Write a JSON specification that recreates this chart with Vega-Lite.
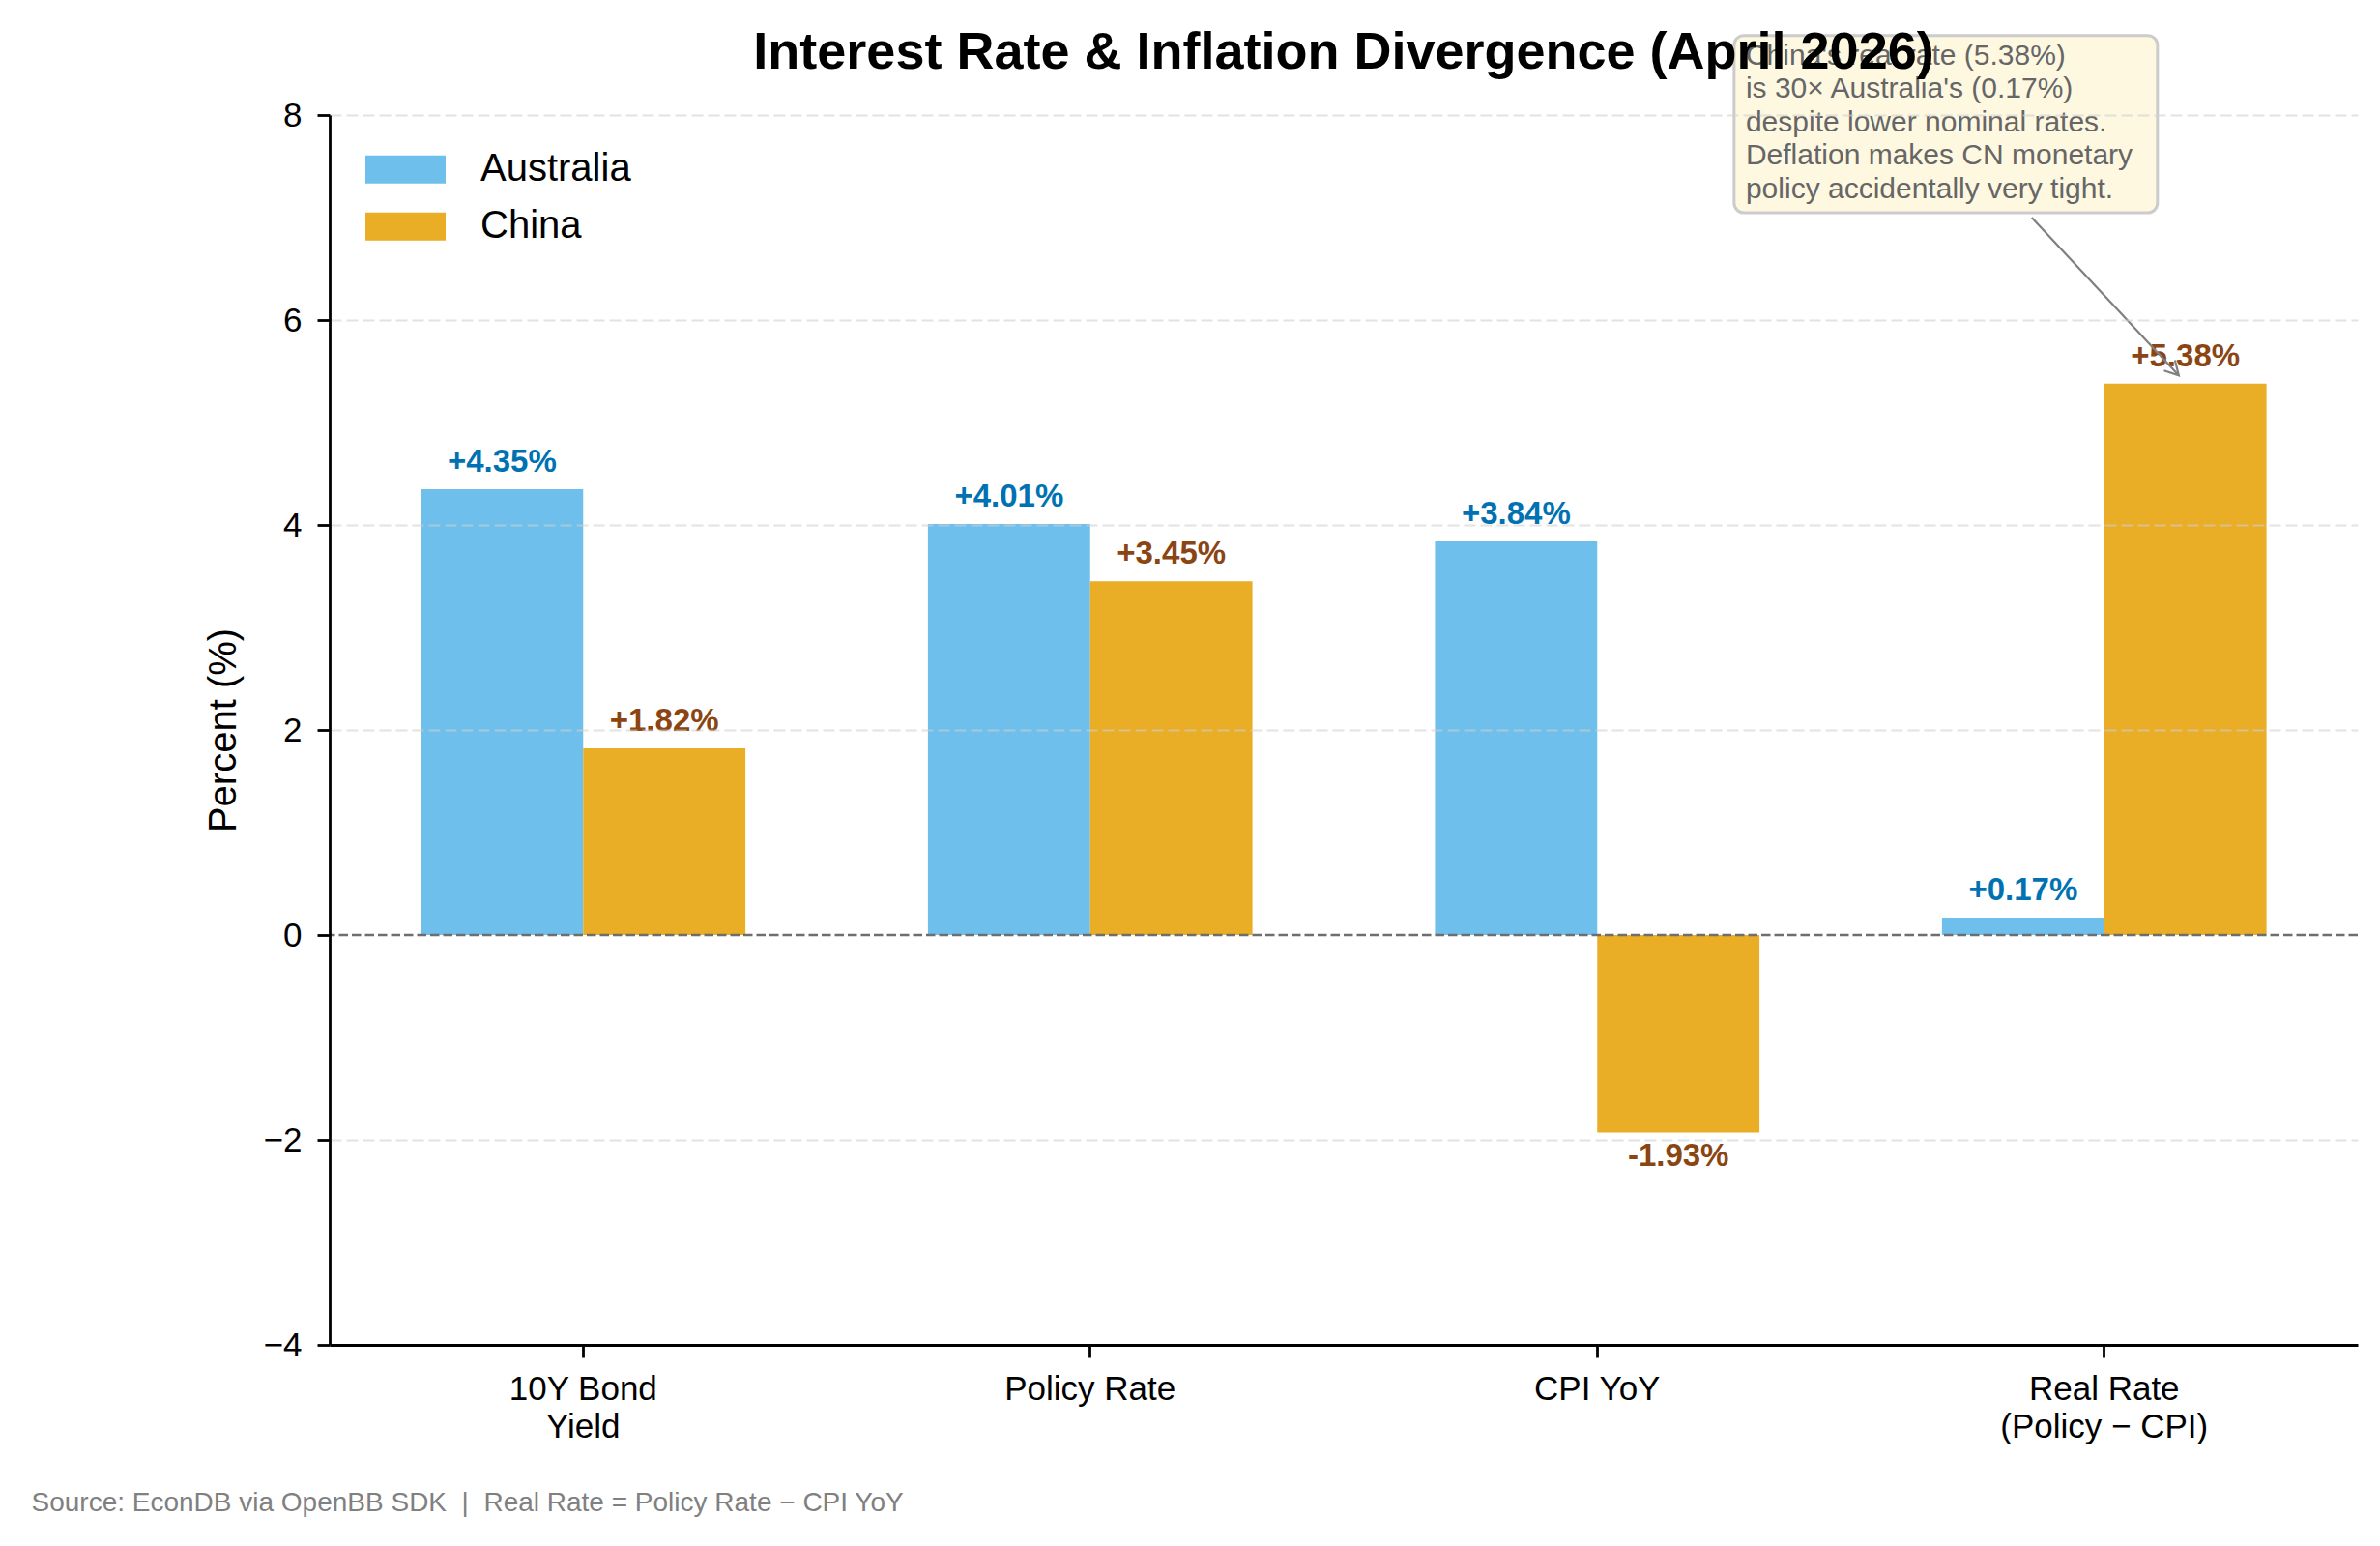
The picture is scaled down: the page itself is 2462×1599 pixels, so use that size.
{
  "$schema": "https://vega.github.io/schema/vega-lite/v6.json",
  "width": 2098,
  "height": 1272,
  "autosize": {"type": "none"},
  "padding": {"left": 341, "top": 119, "right": 23, "bottom": 208},
  "background": "white",
  "title": {
    "text": "Interest Rate & Inflation Divergence (April 2026)",
    "fontSize": 54,
    "fontWeight": "bold",
    "font": "Liberation Sans",
    "color": "#000000",
    "anchor": "middle",
    "frame": "group",
    "offset": -47,
    "zindex": 2
  },
  "config": {
    "font": "Liberation Sans",
    "view": {"stroke": null},
    "axis": {
      "domainColor": "#000000",
      "domainWidth": 2.8,
      "tickColor": "#000000",
      "tickWidth": 2.8,
      "tickSize": 13,
      "labelColor": "#000000",
      "labelFontSize": 35,
      "labelFont": "Liberation Sans",
      "labelLimit": 600,
      "titleFont": "Liberation Sans",
      "titleColor": "#000000",
      "titleFontWeight": "normal"
    }
  },
  "layer": [
    {
      "data": {
        "values": [
          {"metric": "10Y Bond Yield", "country": "Australia", "value": 4.35, "label": "+4.35%"},
          {"metric": "10Y Bond Yield", "country": "China", "value": 1.82, "label": "+1.82%"},
          {"metric": "Policy Rate", "country": "Australia", "value": 4.01, "label": "+4.01%"},
          {"metric": "Policy Rate", "country": "China", "value": 3.45, "label": "+3.45%"},
          {"metric": "CPI YoY", "country": "Australia", "value": 3.84, "label": "+3.84%"},
          {"metric": "CPI YoY", "country": "China", "value": -1.93, "label": "-1.93%"},
          {"metric": "Real Rate (Policy − CPI)", "country": "Australia", "value": 0.17, "label": "+0.17%"},
          {"metric": "Real Rate (Policy − CPI)", "country": "China", "value": 5.38, "label": "+5.38%"}
        ]
      },
      "layer": [
        {
          "mark": {"type": "bar"},
          "encoding": {
            "x": {
              "field": "metric",
              "type": "nominal",
              "sort": null,
              "scale": {"paddingInner": 0.36, "paddingOuter": 0.18},
              "axis": {
                "labelAngle": 0,
                "labelPadding": 15,
                "labelLineHeight": 39.5,
                "labelLimit": 600,
                "labelExpr": "datum.value == '10Y Bond Yield' ? ['10Y Bond', 'Yield'] : datum.value == 'Real Rate (Policy − CPI)' ? ['Real Rate', '(Policy − CPI)'] : datum.value",
                "grid": false,
                "title": "Source: EconDB via OpenBB SDK \u00a0|\u00a0 Real Rate = Policy Rate − CPI YoY",
                "titleFontSize": 28,
                "titleColor": "#808080",
                "titleAnchor": "start",
                "titleAlign": "left",
                "titleBaseline": "alphabetic",
                "titleX": -309,
                "titleY": 171,
                "titleAngle": 0,
                "titleLimit": 2000
              }
            },
            "xOffset": {
              "field": "country",
              "type": "nominal",
              "scale": {"paddingInner": 0, "paddingOuter": 0}
            },
            "y": {
              "field": "value",
              "type": "quantitative",
              "scale": {"domain": [-4, 8], "nice": false, "zero": false},
              "axis": {
                "values": [-4, -2, 0, 2, 4, 6, 8],
                "format": "d",
                "labelPadding": 16,
                "title": "Percent (%)",
                "titleFontSize": 40,
                "titlePadding": 21,
                "grid": true,
                "gridColor": "#d0d0d0",
                "gridWidth": 2,
                "gridDash": [12, 5],
                "gridOpacity": {"condition": {"test": "datum.value === 0 || datum.value === -4", "value": 0}, "value": 0.6},
                "zindex": 1
              }
            },
            "color": {
              "field": "country",
              "type": "nominal",
              "scale": {"domain": ["Australia", "China"], "range": ["#6FBFEC", "#EAAD26"]},
              "legend": {
                "title": null,
                "orient": "none",
                "legendX": 37,
                "legendY": 27,
                "symbolType": "M-1,-0.35L1,-0.35L1,0.35L-1,0.35Z",
                "symbolSize": 6889,
                "symbolStrokeWidth": 0,
                "symbolOpacity": 1,
                "labelFontSize": 40,
                "labelColor": "#000000",
                "labelOffset": 36,
                "clipHeight": 58.5,
                "rowPadding": 0,
                "padding": 0
              }
            }
          }
        },
        {
          "transform": [{"filter": "datum.value >= 0"}],
          "mark": {"type": "text", "baseline": "alphabetic", "align": "center", "dy": -18, "fontSize": 33, "fontWeight": "bold"},
          "encoding": {
            "x": {"field": "metric", "type": "nominal", "sort": null},
            "xOffset": {"field": "country", "type": "nominal"},
            "y": {"field": "value", "type": "quantitative"},
            "text": {"field": "label"},
            "color": {"condition": {"test": "datum.country === 'Australia'", "value": "#0072B2"}, "value": "#8B4513"}
          }
        },
        {
          "transform": [{"filter": "datum.value < 0"}],
          "mark": {"type": "text", "baseline": "top", "align": "center", "dy": 8, "fontSize": 33, "fontWeight": "bold"},
          "encoding": {
            "x": {"field": "metric", "type": "nominal", "sort": null},
            "xOffset": {"field": "country", "type": "nominal"},
            "y": {"field": "value", "type": "quantitative"},
            "text": {"field": "label"},
            "color": {"condition": {"test": "datum.country === 'Australia'", "value": "#0072B2"}, "value": "#8B4513"}
          }
        },
        {
          "data": {"values": [{}]},
          "mark": {"type": "rule", "color": "#6e6e6e", "strokeWidth": 2.5, "strokeDash": [9.5, 4]},
          "encoding": {"y": {"datum": 0, "type": "quantitative"}}
        }
      ]
    },
    {
      "data": {"values": [{}]},
      "layer": [
        {
          "mark": {"type": "rect", "fill": "#FEF8E1", "stroke": "#cccccc", "strokeWidth": 3, "cornerRadius": 10},
          "encoding": {
            "x": {"datum": 2.27, "type": "quantitative", "scale": {"domain": [-0.5, 3.5], "nice": false, "zero": false}, "axis": null},
            "x2": {"datum": 3.105},
            "y": {"datum": 8.776, "type": "quantitative"},
            "y2": {"datum": 7.047}
          }
        },
        {
          "mark": {
            "type": "text",
            "text": ["China's real rate (5.38%)", "is 30× Australia's (0.17%)", "despite lower nominal rates.", "Deflation makes CN monetary", "policy accidentally very tight."],
            "align": "left",
            "baseline": "alphabetic",
            "fontSize": 30,
            "lineHeight": 34.5,
            "color": "#666666"
          },
          "encoding": {
            "x": {"datum": 2.293, "type": "quantitative", "axis": null},
            "y": {"datum": 8.493, "type": "quantitative"}
          }
        },
        {
          "mark": {"type": "rule", "color": "#808080", "strokeWidth": 2.2},
          "encoding": {
            "x": {"datum": 2.857, "type": "quantitative", "axis": null},
            "x2": {"datum": 3.147},
            "y": {"datum": 7.0, "type": "quantitative"},
            "y2": {"datum": 5.46}
          }
        },
        {
          "mark": {"type": "point", "shape": "M-0.55,-1L0,0L0.55,-1", "filled": false, "stroke": "#808080", "strokeWidth": 2.2, "size": 800, "angle": 317, "opacity": 1},
          "encoding": {
            "x": {"datum": 3.147, "type": "quantitative", "axis": null},
            "y": {"datum": 5.46, "type": "quantitative"}
          }
        }
      ]
    }
  ],
  "resolve": {"scale": {"x": "independent"}}
}
